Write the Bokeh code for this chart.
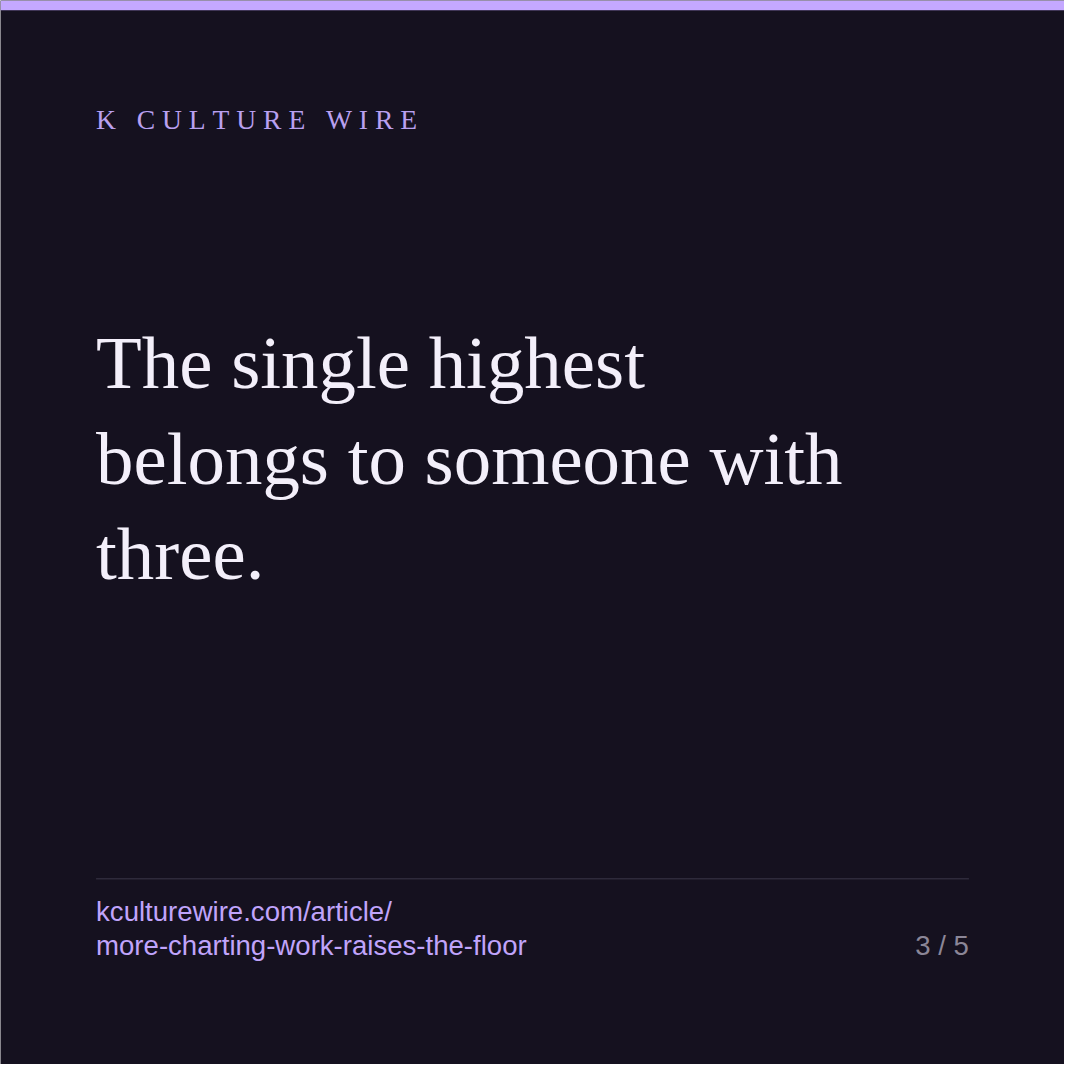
from bokeh.plotting import figure
from bokeh.models import Range1d, ColumnDataSource
from bokeh.core.properties import value
from bokeh.embed import file_html
from bokeh.resources import INLINE

# ---- content ----
BRAND = "K CULTURE WIRE"
HEADLINE_LINES = ["The single highest", "belongs to someone with", "three."]
URL_LINES = ["kculturewire.com/article/", "more-charting-work-raises-the-floor"]
PAGE_LABEL = "3 / 5"

# ---- style ----
BG = "#15111f"
ACCENT = "#c4a8ff"
BRAND_COLOR = "#b9a0f0"
TITLE_COLOR = "#f3effa"
LINK_COLOR = "#c0a4fb"
PAGE_COLOR = "#8b8697"
RULE_COLOR = "#2e2a3b"
SERIF = "Liberation Serif"
SANS = "Liberation Sans"

W = H = 1064
CANVAS = 1080          # design canvas units
S = W / CANVAS         # px per design unit
LEFT = 97
RIGHT = 983
BASE_FIX = 0.35        # baseline correction (fraction of font size)

def fs(px):
    return f"{px * S:.2f}px"

p = figure(width=W, height=H, output_backend="svg", toolbar_location=None,
           x_range=Range1d(0, CANVAS), y_range=Range1d(CANVAS, 0),
           min_border=0)
p.axis.visible = False
p.grid.visible = False
p.outline_line_color = None
p.background_fill_color = BG
p.border_fill_color = BG

# top accent bar
p.quad(left=[0], right=[CANVAS], top=[0], bottom=[10],
       fill_color=ACCENT, line_color=None)

# brand with letter spacing (Times-metric advance widths)
adv = {"K": 0.722, "C": 0.667, "U": 0.722, "L": 0.611, "T": 0.611, "R": 0.667,
       "E": 0.611, "W": 0.944, "I": 0.333, " ": 0.25}
bsize = 28
track = 7.0
bx, chars, xs = LEFT, [], []
for ch in BRAND:
    chars.append(ch)
    xs.append(bx)
    bx += adv[ch] * bsize + track
brand_src = ColumnDataSource(dict(x=xs, y=[131 - BASE_FIX * bsize] * len(xs), t=chars))
p.text(x="x", y="y", text="t", source=brand_src, text_font=value(SERIF),
       text_font_size=fs(bsize), text_color=BRAND_COLOR,
       text_baseline="alphabetic", text_align="left")

# headline
tsize = 76
hl_y = [394 + 97 * i - BASE_FIX * tsize for i in range(len(HEADLINE_LINES))]
hl_src = ColumnDataSource(dict(x=[LEFT] * len(HEADLINE_LINES), y=hl_y, t=HEADLINE_LINES))
p.text(x="x", y="y", text="t", source=hl_src, text_font=value(SERIF),
       text_font_size=fs(tsize), text_color=TITLE_COLOR,
       text_baseline="alphabetic", text_align="left")

# divider rule
p.segment(x0=[LEFT], y0=[891.5], x1=[RIGHT], y1=[891.5],
          line_color=RULE_COLOR, line_width=1.5)

# footer url
usize = 28
url_y = [934 + 35 * i - BASE_FIX * usize for i in range(len(URL_LINES))]
url_src = ColumnDataSource(dict(x=[LEFT] * len(URL_LINES), y=url_y, t=URL_LINES))
p.text(x="x", y="y", text="t", source=url_src, text_font=value(SANS),
       text_font_size=fs(usize), text_color=LINK_COLOR,
       text_baseline="alphabetic", text_align="left")

# page number
p.text(x=[RIGHT], y=[url_y[-1]], text=[PAGE_LABEL], text_font=value(SANS),
       text_font_size=fs(usize), text_color=PAGE_COLOR,
       text_baseline="alphabetic", text_align="right")

open("out.html", "w").write(file_html(p, INLINE))
